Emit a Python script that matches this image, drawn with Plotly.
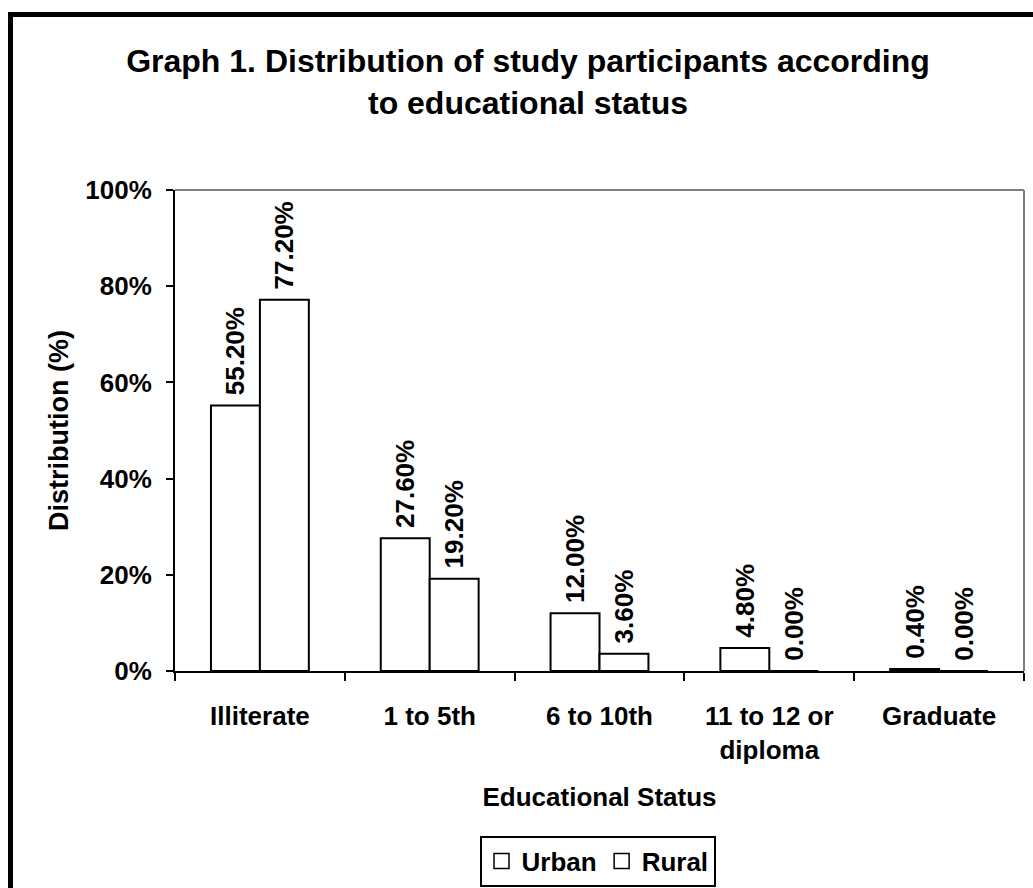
import plotly.graph_objects as go

# Educational status categories and the share of participants in each
categories = ["Illiterate", "1 to 5th", "6 to 10th", "11 to 12 or<br>diploma", "Graduate"]
series_names = ["Urban", "Rural"]
urban = [55.2, 27.6, 12.0, 4.8, 0.4]
rural = [77.2, 19.2, 3.6, 0.0, 0.0]
y_ticks = [0, 20, 40, 60, 80, 100]
y_tick_labels = ["0%", "20%", "40%", "60%", "80%", "100%"]

FONT = "Liberation Sans, Arial, sans-serif"
W, H = 1033, 888
L, R, T, B = 175, 9, 190, 217
PW, PH = W - L - R, H - T - B


def px_x(px):
    return (px - L) / PW


def px_y(py):
    return (H - B - py) / PH


bar_style = dict(
    marker=dict(color="white", line=dict(color="black", width=2)),
    # leading no-break space keeps a small gap between bar top and label
    texttemplate="\u00a0%{y:.2f}%",
    textposition="outside",
    textangle=-90,
    constraintext="none",
    cliponaxis=False,
    textfont=dict(family=FONT, size=26, color="black", weight="bold"),
    showlegend=False,
)

fig = go.Figure()
for name, values in zip(series_names, [urban, rural]):
    fig.add_trace(go.Bar(name=name, x=categories, y=values, legendgroup=name, **bar_style))

# Legend keys drawn as larger open squares
for name in series_names:
    fig.add_trace(go.Scatter(
        name=name, x=[None], y=[None], mode="markers", legendgroup=name,
        marker=dict(symbol="square", size=15, color="white",
                    line=dict(color="black", width=1.5)),
        showlegend=True,
    ))

fig.update_layout(
    width=W,
    height=H,
    margin=dict(l=L, r=R, t=T, b=B, autoexpand=False),
    paper_bgcolor="white",
    plot_bgcolor="white",
    barmode="group",
    bargap=0.4235,
    bargroupgap=0,
    font=dict(family=FONT, color="black", weight="bold"),
    title=dict(
        text="Graph 1. Distribution of study participants according<br>to educational status",
        font=dict(family=FONT, size=32, color="black", weight="bold"),
        x=528 / W,
        xanchor="center",
        xref="container",
        y=1 - 72 / H,
        yanchor="top",
        yref="container",
    ),
    legend=dict(
        orientation="h",
        x=px_x(597.5),
        xanchor="center",
        y=px_y(861),
        yanchor="middle",
        bordercolor="black",
        borderwidth=2,
        bgcolor="white",
        font=dict(family=FONT, size=26, color="black", weight="bold"),
        itemwidth=30,
        traceorder="normal",
    ),
    showlegend=True,
)

fig.update_xaxes(
    showline=True,
    linecolor="black",
    linewidth=2,
    ticks="outside",
    tickson="boundaries",
    ticklen=8,
    tickwidth=2,
    tickcolor="black",
    showgrid=False,
    tickfont=dict(family=FONT, size=26, color="black", weight="bold"),
    ticklabelstandoff=21,
    title=dict(
        text="Educational Status",
        font=dict(family=FONT, size=26, color="black", weight="bold"),
        standoff=24,
    ),
)

fig.update_yaxes(
    range=[0, 100],
    tickmode="array",
    tickvals=y_ticks,
    ticktext=y_tick_labels,
    showline=True,
    linecolor="black",
    linewidth=2,
    ticks="outside",
    ticklen=7,
    tickwidth=2,
    tickcolor="black",
    showgrid=False,
    zeroline=False,
    tickfont=dict(family=FONT, size=26, color="black", weight="bold"),
    ticklabelstandoff=9,
    title=dict(
        text="Distribution (%)",
        font=dict(family=FONT, size=27, color="black", weight="bold"),
        standoff=9,
    ),
)

# Grey top and right edges of the plotting area
fig.add_shape(type="line", xref="paper", yref="paper", x0=0, x1=1, y0=1, y1=1,
              line=dict(color="#808080", width=2))
fig.add_shape(type="line", xref="paper", yref="paper", x0=1, x1=1, y0=0, y1=1,
              line=dict(color="#808080", width=2))

# Heavy outer frame around the whole chart
fig.add_shape(type="rect", xref="paper", yref="paper",
              x0=px_x(10.5), x1=px_x(1045), y0=px_y(900), y1=px_y(14.5),
              line=dict(color="black", width=5), fillcolor="rgba(0,0,0,0)",
              layer="above")

fig.write_html("out.html")
